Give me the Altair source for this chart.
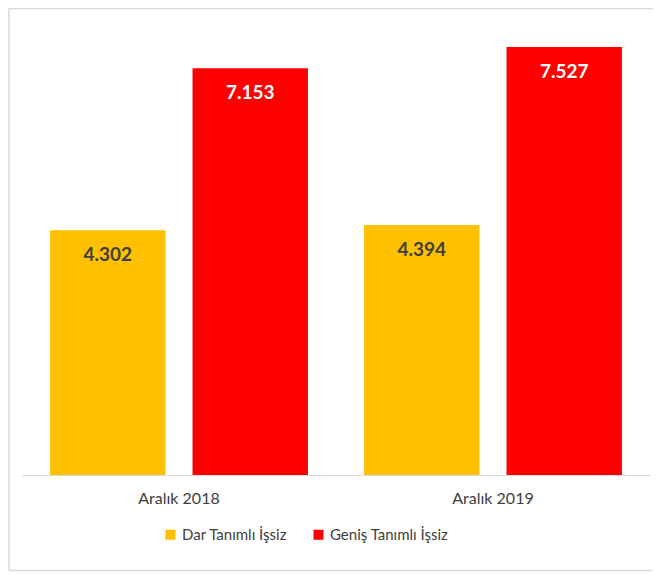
import altair as alt
import pandas as pd

periods = ["Aralık 2018", "Aralık 2019"]
series = ["Dar Tanımlı İşsiz", "Geniş Tanımlı İşsiz"]
dar = [4.302, 4.394]
genis = [7.153, 7.527]
colors = ["#FFC000", "#FF0000"]

rows = []
for i, p in enumerate(periods):
    rows.append({"period": p, "series": series[0], "value": dar[i]})
    rows.append({"period": p, "series": series[1], "value": genis[i]})
df = pd.DataFrame(rows)

FONT = "Lato"

x = alt.X("period:N", sort=periods,
          scale=alt.Scale(paddingInner=0, paddingOuter=0),
          axis=alt.Axis(title=None, labelAngle=0, ticks=False, domainColor="#D9D9D9",
                        domainWidth=1, labelFontSize=16, labelColor="#404040",
                        labelFont=FONT, labelPadding=15))
xo = alt.XOffset("series:N", sort=series,
                 scale=alt.Scale(paddingInner=0.19, paddingOuter=0.197))
y = alt.Y("value:Q", scale=alt.Scale(domain=[0, 8]), axis=None)

bars = alt.Chart(df).mark_bar().encode(
    x=x, xOffset=xo, y=y,
    color=alt.Color("series:N", sort=series,
                    scale=alt.Scale(domain=series, range=colors),
                    legend=alt.Legend(title=None, orient="none", direction="horizontal",
                                      legendX=141, legendY=507, symbolType="square",
                                      symbolSize=100, symbolStrokeWidth=0,
                                      labelFontSize=15, labelColor="#404040",
                                      labelFont=FONT, labelOffset=4, columnPadding=23)),
)

labels = alt.Chart(df).mark_text(dy=25, baseline="middle", fontSize=19,
                                 fontWeight="bold", font=FONT).encode(
    x=x, xOffset=xo, y=y,
    text=alt.Text("value:Q", format=".3f"),
    color=alt.condition(alt.datum.series == series[1], alt.value("#FFFFFF"), alt.value("#404040")),
)

one = pd.DataFrame({"k": [0]})
rule_style = dict(stroke="#D9D9D9", strokeWidth=1.5)
left_edge = alt.Chart(one).mark_rule(**rule_style).encode(
    x=alt.value(-13), y=alt.value(-11.5), y2=alt.value(550.5))
top_edge = alt.Chart(one).mark_rule(**rule_style).encode(
    x=alt.value(-13), x2=alt.value(631), y=alt.value(-11.5))
bottom_edge = alt.Chart(one).mark_rule(**rule_style).encode(
    x=alt.value(-13), x2=alt.value(631), y=alt.value(550.5))

chart = alt.layer(left_edge, top_edge, bottom_edge, bars, labels).properties(
    width=628, height=455,
    autosize=alt.AutoSizeParams(type="none"),
    padding={"left": 14, "top": 12, "right": 3, "bottom": 97},
).configure_view(stroke=None)

chart.save("out.html", embed_options={"renderer": "svg", "actions": False})
